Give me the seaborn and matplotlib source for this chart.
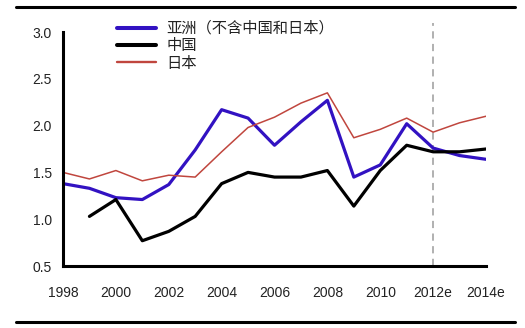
import matplotlib
matplotlib.use("Agg")
import matplotlib.pyplot as plt
import seaborn as sns
import pandas as pd
import numpy as np
from matplotlib.lines import Line2D

years = list(range(1998, 2015))
tick_years = [1998, 2000, 2002, 2004, 2006, 2008, 2010, 2012, 2014]
tick_labels = ["1998", "2000", "2002", "2004", "2006", "2008", "2010", "2012e", "2014e"]
series_names = ["亚洲（不含中国和日本）", "中国", "日本"]
asia = [1.38, 1.33, 1.23, 1.21, 1.37, 1.74, 2.17, 2.08, 1.79, 2.04, 2.27, 1.45, 1.58, 2.02, 1.76, 1.68, 1.64]
china = [np.nan, 1.03, 1.21, 0.77, 0.87, 1.03, 1.38, 1.50, 1.45, 1.45, 1.52, 1.14, 1.52, 1.79, 1.72, 1.72, 1.75]
japan = [1.50, 1.43, 1.52, 1.41, 1.47, 1.45, 1.72, 1.98, 2.09, 2.24, 2.35, 1.87, 1.96, 2.08, 1.93, 2.03, 2.10]
colors = ["#3212c2", "#000000", "#c0463e"]
widths = [2.3, 2.3, 1.1]

sns.set_style("white")
plt.rcParams['font.family'] = ['Liberation Sans', 'Noto Sans CJK SC', 'DejaVu Sans']

df = pd.concat([
    pd.DataFrame({"year": years, "value": v, "series": n})
    for n, v in zip(series_names, [asia, china, japan])
])
df = df.dropna()

fig = plt.figure(figsize=(5.25, 3.28), dpi=100)
ax = fig.add_axes([63/525, 1-266/328, (486-63)/525, (266-32)/328])

sns.lineplot(data=df, x="year", y="value", hue="series", hue_order=series_names,
             palette=colors, ax=ax, legend=False)
for ln, w in zip(ax.lines, widths):
    ln.set_linewidth(w)

ax.axvline(2012, ymin=0, ymax=(266-23)/234, color="#aaaaaa", lw=1.3,
           ls=(0, (4, 3)), clip_on=False, zorder=0)

ax.set_xlim(1998, 2014)
ax.set_ylim(0.5, 3.0)
ax.set_xticks(tick_years)
ax.set_xticklabels(tick_labels)
ax.set_yticks([0.5, 1.0, 1.5, 2.0, 2.5, 3.0])
ax.set_yticklabels(["0.5", "1.0", "1.5", "2.0", "2.5", "3.0"])
ax.set_xlabel("")
ax.set_ylabel("")
for s in ["top", "right"]:
    ax.spines[s].set_visible(False)
for s in ["left", "bottom"]:
    ax.spines[s].set_linewidth(2.2)
    ax.spines[s].set_color("black")
ax.tick_params(axis="both", direction="out", length=4, width=2, color="black",
               labelsize=10, labelcolor="#222222")
ax.tick_params(axis="x", pad=10.5)
ax.tick_params(axis="y", pad=4)

handles = [Line2D([], [], color=c, lw=w + 0.6) for c, w in zip(colors, widths)]
leg = ax.legend(handles, series_names, loc="upper left",
                bbox_to_anchor=((117-63)/423, (266-20)/234), frameon=False,
                borderaxespad=0, borderpad=0,
                handlelength=2.55, handletextpad=0.7, labelspacing=0.02,
                prop={"family": ["Noto Sans CJK SC", "DejaVu Sans"], "size": 11})
for t in leg.get_texts():
    t.set_color("#222222")

fig.add_artist(Line2D([16/525, 515/525], [1-6.5/328, 1-6.5/328], color="black", lw=2.2))
fig.add_artist(Line2D([16/525, 515/525], [1-322/328, 1-322/328], color="black", lw=2.2))

fig.savefig("out.png", dpi=100, facecolor="white")
